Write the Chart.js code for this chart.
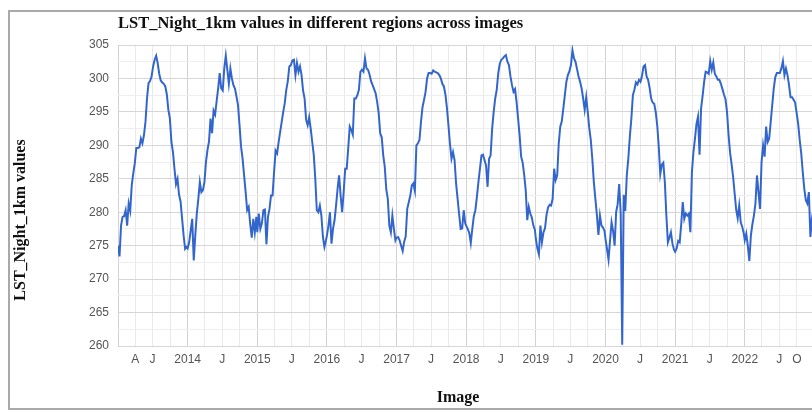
<!DOCTYPE html>
<html>
<head>
<meta charset="utf-8">
<script src="https://cdn.jsdelivr.net/npm/chart.js@4/dist/chart.umd.min.js"></script>
<style>
  html, body { margin: 0; padding: 0; background: #fff; overflow: hidden; width: 812px; height: 412px; }
  #frame { position: absolute; left: 8px; top: 10px; width: 900px; height: 396px; border: 2px solid #a9a9a9; }
  canvas { display: block; }
</style>
</head>
<body>
<div id="frame"><canvas id="chart" width="900" height="396"></canvas></div>
<script>
// Night land surface temperature (K), 8-day composites, one array per year
const compositeDays = [1, 9, 17, 25, 33, 41, 49, 57, 65, 73, 81, 89, 97, 105, 113, 121, 129, 137, 145, 153, 161, 169, 177, 185, 193, 201, 209, 217, 225, 233, 241, 249, 257, 265, 273, 281, 289, 297, 305, 313, 321, 329, 337, 345, 353, 361];

const lst2013 = [275, 273.4, 278, 279.3, 279.4, 280.3, 278, 281.3, 280.2, 284, 285.8, 287.3, 289.6, 289.6, 289.7, 291, 290.3, 291.5, 293.5, 297, 299.3, 299.6, 300.3, 301.8, 302.8, 303.4, 302.3, 300.7, 299.7, 299.4, 299.2, 298.8, 297.6, 295.3, 294, 290.5, 289, 286.5, 284.2, 285, 282.6, 281.6, 279, 276.5, 274.5, 274.8];
const lst2014 = [274.6, 275.5, 277.3, 279, 272.8, 276.5, 279.8, 282, 284.5, 283, 283.3, 284.5, 287.5, 289.3, 290.6, 294, 291.8, 295.2, 294.6, 296.6, 298.5, 300.8, 298.5, 298.2, 301.5, 303.4, 301.3, 299.2, 301.5, 300, 299, 298.5, 297.3, 296, 293, 289.8, 288, 285.5, 283, 280.3, 280.8, 278.2, 276.2, 279, 277, 279.3];
const lst2015 = [277, 279.8, 277.5, 278.3, 280.3, 280.4, 275.2, 279.3, 280.5, 282.5, 282.5, 286, 289.2, 288.8, 290.5, 292, 293.5, 295, 296.3, 298.3, 299.6, 301.8, 302, 302.7, 302.8, 300.5, 302.3, 301, 301.8, 300.5, 298.2, 297, 293.8, 293, 294.2, 292.5, 290.5, 288.6, 285, 280.3, 280, 281, 279.5, 276.3, 274.8, 275.8];
const lst2016 = [276.5, 278, 280, 275.3, 277.5, 278.8, 281, 283.5, 285.5, 282.5, 280, 283, 286.5, 286.5, 289.6, 292.8, 292.3, 291.6, 297, 297, 297.5, 298.3, 301, 301.3, 301, 303, 301.5, 301.3, 300.6, 299.6, 299, 298.4, 297.8, 296.5, 294.8, 291.8, 291.2, 288.5, 286.8, 283.4, 282, 278, 277, 279.5, 277.5, 275.8];
const lst2017 = [276.2, 276.3, 275.8, 275, 274.2, 275.6, 276.4, 280.5, 281.5, 282.5, 284, 284.3, 283.2, 290, 290.3, 290.8, 293.5, 295.7, 296.8, 298, 300, 300.8, 300.8, 300.7, 301.2, 301, 300.9, 300.8, 300.5, 300, 299.2, 298.8, 297.6, 295.6, 293, 290.2, 288, 289, 287.8, 284.3, 282, 279.7, 277.5, 277.6, 280.3, 278.3];
const lst2018 = [278, 277.5, 276.9, 275.4, 277.5, 279.4, 280.3, 282.3, 284.5, 286.5, 288.5, 288.6, 287.8, 287, 283.8, 288, 288.5, 292.5, 295, 297, 298.3, 300.8, 302.2, 302.8, 303, 303.3, 303.5, 302.5, 302, 300.3, 299, 298, 298.4, 296.5, 294, 291.5, 288.3, 287.4, 285.6, 283.3, 278.8, 280.8, 279.8, 279.2, 278, 277.4];
const lst2019 = [276, 274.6, 273.7, 278, 275.5, 277, 277.6, 279.6, 280.7, 281.1, 281, 282, 286.5, 284.8, 285.5, 290.3, 292.8, 293.6, 295.5, 297.5, 299.5, 300.5, 301.1, 302, 304.2, 303, 302.5, 301.4, 300.3, 299.5, 298.5, 297, 295.3, 297.2, 295, 292.6, 290.8, 288, 284.5, 282, 279.6, 276.6, 279.5, 278, 277.7, 277.2];
const lst2020 = [276, 274.5, 272.9, 275.8, 278.5, 277.2, 275, 280, 281.2, 284.2, 279.8, 260.2, 282.6, 280.2, 285.5, 288, 291.3, 294, 297.5, 298.3, 299.4, 299.1, 299.8, 299.5, 300.4, 301.8, 302, 300.3, 299.8, 298.6, 297, 296.4, 296.2, 295, 293, 289.8, 285.7, 287.1, 287.4, 284.5, 279.5, 275.5, 276.2, 277, 275.3, 274.4];
const lst2021 = [274.1, 274.6, 275.7, 275.5, 278.2, 281.5, 279, 279.8, 279.5, 279.8, 277, 286, 289, 291, 293.2, 294.3, 288.6, 295.5, 297.4, 299.5, 301, 300.9, 300.7, 302.6, 301.3, 302.4, 300.7, 300.3, 299.8, 299.8, 299.2, 298.4, 297.6, 296.9, 295, 291.6, 288.9, 287.2, 285.3, 282.8, 280.4, 279.1, 281, 278.5, 277.8, 276.8];
const lst2022 = [275.8, 276.8, 275, 272.7, 276.5, 278.2, 279.5, 281.3, 285.5, 283, 280.5, 287.5, 290, 288.3, 292.8, 290.5, 291, 293.5, 296, 298.5, 300.2, 300.8, 300.8, 300.8, 301.5, 302.6, 300.5, 301.5, 300.5, 299, 297.2, 297.2, 296.8, 296.4, 294.8, 293.2, 290.8, 288.8, 286, 283.5, 281.8, 281.3, 283, 276.3, 279, 280.5];

const years = [2013, 2014, 2015, 2016, 2017, 2018, 2019, 2020, 2021, 2022];
const yearValues = [lst2013, lst2014, lst2015, lst2016, lst2017, lst2018, lst2019, lst2020, lst2021, lst2022];

// Labelled ticks on the time axis
const tickMonths = ['2013-04', '2013-07', '2014-01', '2014-07', '2015-01', '2015-07', '2016-01', '2016-07', '2017-01', '2017-07', '2018-01', '2018-07', '2019-01', '2019-07', '2020-01', '2020-07', '2021-01', '2021-07', '2022-01', '2022-07', '2022-10'];
const tickTexts = ['A', 'J', '2014', 'J', '2015', 'J', '2016', 'J', '2017', 'J', '2018', 'J', '2019', 'J', '2020', 'J', '2021', 'J', '2022', 'J', 'O'];

const yTicks = [260, 265, 270, 275, 280, 285, 290, 295, 300, 305];

const chartTitle = 'LST_Night_1km values in different regions across images';
const yTitle = 'LST_Night_1km values';
const xTitle = 'Image';

// --- helpers: calendar position as a fractional year ---
const isLeap = y => (y % 4 === 0 && y % 100 !== 0) || y % 400 === 0;
const fracYear = (y, doy) => y + (doy - 1) / (isLeap(y) ? 366 : 365);
const monthStart = (y, m) => {
  const doy = Math.round((Date.UTC(y, m - 1, 1) - Date.UTC(y, 0, 1)) / 86400000) + 1;
  return fracYear(y, doy);
};
const key = v => v.toFixed(4);

const points = [];
years.forEach((y, i) => {
  yearValues[i].forEach((v, k) => points.push({ x: fracYear(y, compositeDays[k]), y: v }));
});

const labelAt = new Map();
tickMonths.forEach((s, i) => {
  const [y, m] = s.split('-').map(Number);
  labelAt.set(key(monthStart(y, m)), tickTexts[i]);
});

// quarter gridlines across the whole span
const quarterTicks = [];
for (let y = years[0]; y <= years[years.length - 1] + 1; y++) {
  for (const m of [1, 4, 7, 10]) {
    const v = monthStart(y, m);
    if (v <= years[years.length - 1] + 1 + 1e-9) quarterTicks.push({ value: v, year: m === 1 });
  }
}
const isYearStart = v => quarterTicks.some(t => t.year && Math.abs(t.value - v) < 1e-6);

const tickFont = { family: '"Liberation Sans", Arial, sans-serif', size: 12 };
const titleFont = 'bold 16.5px "Liberation Serif", "Times New Roman", serif';
const axisTitleFont = 'bold 16px "Liberation Serif", "Times New Roman", serif';

const captions = {
  id: 'captions',
  afterDraw(chart) {
    const { ctx, chartArea } = chart;
    ctx.save();
    ctx.fillStyle = '#111';
    ctx.textBaseline = 'middle';
    ctx.textAlign = 'left';
    ctx.font = titleFont;
    ctx.fillText(chartTitle, chartArea.left, chartArea.top - 21);
    ctx.font = axisTitleFont;
    ctx.textAlign = 'center';
    ctx.fillText(xTitle, chartArea.left + 340, chartArea.bottom + 52);
    ctx.translate(chartArea.left - 97, chartArea.top + 175);
    ctx.rotate(-Math.PI / 2);
    ctx.fillText(yTitle, 0, 0);
    ctx.restore();
  }
};

new Chart(document.getElementById('chart'), {
  type: 'line',
  data: {
    datasets: [{
      data: points,
      borderColor: '#3366cc',
      borderWidth: 2,
      pointRadius: 0,
      tension: 0,
      fill: false
    }]
  },
  options: {
    responsive: false,
    animation: false,
    devicePixelRatio: 1,
    layout: { padding: { top: 33, left: 0, right: 95.6, bottom: 0 } },
    plugins: { legend: { display: false }, tooltip: { enabled: false }, title: { display: false } },
    scales: {
      x: {
        type: 'linear',
        min: years[0],
        max: years[years.length - 1] + 1,
        afterBuildTicks: scale => { scale.ticks = quarterTicks.map(t => ({ value: t.value })); },
        afterFit: scale => { scale.height = 62; },
        border: { display: false },
        grid: {
          drawTicks: false,
          lineWidth: 1,
          color: c => (c.tick && isYearStart(c.tick.value)) ? '#d2d2d2' : '#e9e9e9'
        },
        ticks: {
          autoSkip: false,
          maxRotation: 0,
          padding: 6,
          color: '#555',
          font: tickFont,
          callback: v => labelAt.get(key(v)) || ''
        }
      },
      y: {
        min: yTicks[0],
        max: yTicks[yTicks.length - 1],
        afterBuildTicks: scale => {
          const t = [];
          yTicks.forEach((v, i) => {
            t.push({ value: v });
            if (i < yTicks.length - 1) t.push({ value: (v + yTicks[i + 1]) / 2 });
          });
          scale.ticks = t;
        },
        afterFit: scale => { scale.width = 108; },
        border: { display: false },
        grid: {
          drawTicks: false,
          lineWidth: 1,
          color: c => (c.tick && yTicks.includes(c.tick.value)) ? '#d6d6d6' : '#eeeeee'
        },
        ticks: {
          autoSkip: false,
          padding: 9,
          color: '#555',
          font: tickFont,
          callback: v => yTicks.includes(v) ? String(v) : ''
        }
      }
    }
  },
  plugins: [captions]
});
</script>
</body>
</html>
